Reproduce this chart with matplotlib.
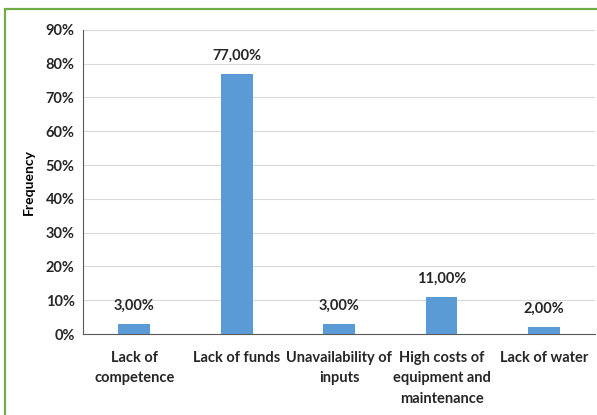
import matplotlib.pyplot as plt
from matplotlib.patches import Rectangle

# constraint categories and share of respondents (%)
categories = ["Lack of\ncompetence", "Lack of funds", "Unavailability of\ninputs",
              "High costs of\nequipment and\nmaintenance", "Lack of water"]
values = [3.0, 77.0, 3.0, 11.0, 2.0]
yticks = [0, 10, 20, 30, 40, 50, 60, 70, 80, 90]

plt.rcParams['font.family'] = ['Lato', 'DejaVu Sans']

fig = plt.figure(figsize=(5.97, 4.15), dpi=100)
ax = fig.add_axes([0.139, 0.195, 0.858, 0.733])

x = range(len(categories))
bars = ax.bar(x, values, width=0.31, color="#5B9BD5", zorder=3)

for b, v in zip(bars, values):
    ax.annotate(f"{v:.2f}%".replace(".", ","), (b.get_x() + b.get_width() / 2, v),
                xytext=(0, 8), textcoords="offset points", ha="center", va="bottom",
                fontsize=10.5, fontweight="bold", color="#262626")

ax.set_xlim(-0.5, len(categories) - 0.5)
ax.set_ylim(0, 90)
ax.set_yticks(yticks)
ax.set_yticklabels([f"{t}%" for t in yticks], fontsize=10.5, fontweight="bold", color="#262626")
ax.set_xticks(list(x))
ax.set_xticklabels(categories, fontsize=10.5, fontweight="bold", color="#262626", linespacing=1.6)
ax.tick_params(axis="both", length=0)
ax.tick_params(axis="x", pad=12)
ax.tick_params(axis="y", pad=6)

ax.grid(axis="y", color="#D9D9D9", linewidth=0.8, zorder=0)
for s in ["top", "right"]:
    ax.spines[s].set_visible(False)
ax.spines["left"].set_color("#595959")
ax.spines["left"].set_linewidth(0.8)
ax.spines["bottom"].set_color("#595959")
ax.spines["bottom"].set_linewidth(0.8)

ax.set_ylabel("Frequency", fontsize=10, fontweight="bold", labelpad=8)

# green frame around the chart
fig.patches.append(Rectangle((4.5 / 597, -0.1), 1.2, 1 - 9.5 / 415 + 0.1,
                             transform=fig.transFigure, fill=False,
                             edgecolor="#70AD47", linewidth=1.6))

fig.savefig("out.png", dpi=100)
